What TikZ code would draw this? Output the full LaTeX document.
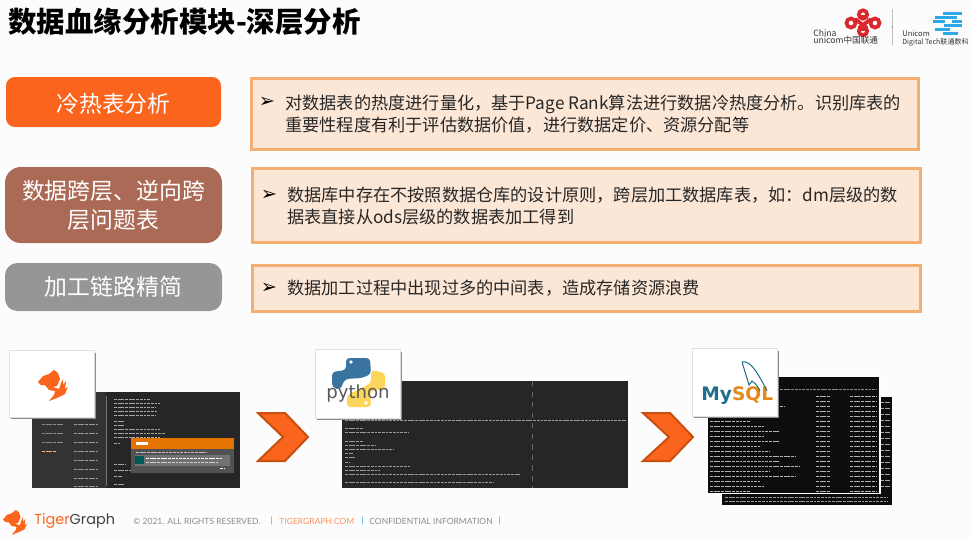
\documentclass[tikz,border=0pt]{standalone}
\usepackage{fontspec}
\setmainfont{Noto Sans CJK SC}
\newfontfamily\bulletfont{DejaVu Sans}
\newfontfamily\logofont{Poppins}
\newfontfamily\footfont{Lato}
\newfontfamily\pyfont{DejaVu Sans}
\usetikzlibrary{calc}
\definecolor{tgorange}{HTML}{FA641C}
\definecolor{tgedge}{HTML}{C8500F}
\definecolor{tgbrown}{HTML}{AB6A56}
\definecolor{tggray}{HTML}{969696}
\definecolor{boxfill}{HTML}{FCE6D6}
\definecolor{boxline}{HTML}{F4AE72}
\definecolor{cuhong}{HTML}{D9272E}
\definecolor{dtblue}{HTML}{2FA8E8}
\definecolor{pyblue}{HTML}{39739F}
\definecolor{pyyellow}{HTML}{FBD65A}
\definecolor{mysqlteal}{HTML}{1F6E8C}
\definecolor{mysqlorange}{HTML}{E48A1C}
\tikzset{
	headbox/.style={rounded corners=#1, inner sep=0, text=white, align=center, font=\fontsize{13}{16.5}\selectfont},
	textbox/.style={draw=boxline, fill=boxfill, line width=0.6mm},
	bodytext/.style={anchor=west, inner sep=0, align=left, text=black!85, font=\fontsize{9.78}{12.8}\selectfont},
	bullet/.style={inner sep=0, font=\bulletfont\fontsize{11}{12}\selectfont},
	card/.style={fill=white, draw=black!12, line width=0.2mm},
	cardshadow/.style={fill=black!45},
	chevron/.style={fill=tgorange, draw=tgedge, line width=0.4mm, line join=miter},
	footnote/.style={inner sep=0, anchor=west, text=black!45, font=\footfont\fontsize{4.85}{6}\selectfont},
	codeline/.style={line width=0.18mm, dash pattern=on 1.6pt off 0.5pt, color=#1},
	tinylogo/.style={inner sep=0, anchor=west, text=black!80}
}
\def\tigerhead[#1](#2,#3){\fill[tgorange, shift={(#2,#3)}, scale=#1]
	(0,12) -- (5,6) -- (11,4) -- (16,0) -- (20,3) -- (22,9) -- (19,16) -- (15,17) -- (21,19) -- (23,13) -- (25,9) -- (25,15) -- (28,11) -- (27,19)
	-- (30,17) -- (27,24) -- (19,28) -- (11,31) -- (16,25) -- (17,21) -- (11,20) -- (7,15) -- (3,15) -- cycle;}
\begin{document}
\begin{tikzpicture}[x=0.02cm, y=-0.02cm]
			%%%%% START %%%%%
			\useasboundingbox[fill=black!1] (0, 0) rectangle (973, 538);
			
			\node[inner sep=0, anchor=west, font=\bfseries\fontsize{16.2}{20}\selectfont] (title) at (8, 22) {数据血缘分析模块-深层分析};
			
			% unicom logos
			\draw[cuhong, line width=0.75mm] (851, 23) circle (4.5);
			\draw[cuhong, line width=0.75mm] (875, 23) circle (4.5);
			\draw[cuhong, line width=0.75mm] (863, 14.5) circle (4.2);
			\draw[cuhong, line width=0.75mm] (863, 31) circle (4.2);
			\draw[cuhong, line width=0.75mm] (855, 19) -- (867, 28) (871, 19) -- (859, 28) (859, 17) -- (867, 17) (859, 29) -- (867, 29);
			\node[tinylogo, font=\fontsize{4.9}{6}\selectfont] (china) at (813, 33) {China};
			\node[tinylogo, font=\fontsize{4.9}{6}\selectfont] (unicomcn) at (813, 40) {unicom中国联通};
			\draw[black!25, line width=0.2mm] (892, 9) -- (892, 45);
			\fill[black!50] (892, 27) circle (0.7);
			\node[tinylogo, font=\fontsize{4.3}{6}\selectfont] (unicomdt) at (902, 34) {Unicom};
			\node[tinylogo, font=\fontsize{4}{6}\selectfont] (digitaltech) at (902, 42) {Digital Tech联通数科};
			\draw[dtblue, line width=0.6mm] (943, 13) -- (962, 13) (935, 17) -- (957, 17) (933, 21) -- (945, 21) (952, 21) -- (962, 21) (944, 25) -- (962, 25) (935, 29) -- (950, 29) (943, 33) -- (958, 33);
			
			% head boxes
			\node[headbox=5, fill=tgorange, minimum width=215*0.02cm, minimum height=50*0.02cm, text depth=0] (coldhot) at (113.5, 102) {\raisebox{-1pt}{冷热表分析}};
			\node[headbox=9, fill=tgbrown, minimum width=217*0.02cm, minimum height=76*0.02cm] (crosslayer) at (113.5, 205) {\raisebox{-0.6pt}{数据跨层、逆向跨}\\\raisebox{-0.6pt}{层问题表}};
			\node[headbox=7, fill=tggray, minimum width=217*0.02cm, minimum height=48*0.02cm] (shorten) at (113.5, 287) {\raisebox{-0.6pt}{加工链路精简}};
			
			% text boxes
			\draw[textbox] (251, 78.5) rectangle (918.5, 149.5);
			\node[bullet] (bulleta) at (267, 102) {➢};
			\node[bodytext] (texta) at (285, 114) {对数据表的热度进行量化，基于Page Rank算法进行数据冷热度分析。识别库表的\\重要性程度有利于评估数据价值，进行数据定价、资源分配等};
			
			\draw[textbox] (252.5, 168.5) rectangle (920.5, 242.5);
			\node[bullet] (bulletb) at (269, 195) {➢};
			\node[bodytext] (textb) at (287, 206) {数据库中存在不按照数据仓库的设计原则，跨层加工数据库表，如：dm层级的数\\据表直接从ods层级的数据表加工得到};
			
			\draw[textbox] (252.5, 265.5) rectangle (920.5, 311.5);
			\node[bullet] (bulletc) at (269, 288) {➢};
			\node[bodytext] (textc) at (287, 288.5) {数据加工过程中出现过多的中间表，造成存储资源浪费};
			
			% first screen
			\fill[black!85] (32, 392) rectangle (240, 488);
			\fill[black!80] (32, 392) rectangle (106, 488);
			\foreach \y in {424, 433, 442, 451, 460, 469, 478, 486}
				\draw[codeline=black!40] (74, \y) -- (98, \y);
			\foreach \y in {424, 433, 442}
				\draw[codeline=black!45] (42, \y) -- (64, \y);
			\draw[codeline=orange!60] (42, 451) -- (56, 451);
			\foreach \y/\w in {399/150, 403/160, 407/155, 411/158, 415/155, 421/125, 425/125, 429/160, 433/165, 437/160, 443/120, 464/126, 470/134, 476/122, 484/125}
				\draw[codeline=black!35] (114, \y) -- (\w, \y);
			\draw[black!55, line width=0.2mm] (106, 396) -- (106, 486);
			\fill[black!68] (131, 438) rectangle (234, 473);
			\fill[orange!90!black] (131, 438) rectangle (234, 449);
			\fill[white] (136, 442) rectangle (148, 444.5);
			\fill[black!55] (135, 455) rectangle (230, 466);
			\fill[teal!70!black] (135, 456) rectangle (144, 464);
			\draw[codeline=white] (146, 458) -- (222, 458);
			\draw[codeline=black!20] (146, 462) -- (218, 462);
			\draw[codeline=black!25] (136, 452) -- (207, 452);
			\draw[codeline=white] (220, 468) -- (224, 468);
			
			\fill[cardshadow] (11, 353) rectangle (96, 419);
			\draw[card] (9, 350) rectangle (94, 417);
			\tigerhead[1](38, 370)
			
			\draw[chevron] (258, 413) -- (285, 413) -- (308, 437) -- (285, 461) -- (258, 461) -- (283, 437) -- cycle;
			
			% second screen
			\fill[black!85] (342, 381) rectangle (628, 488);
			\draw[black!60, dashed, line width=0.1mm] (532, 381) -- (532, 488);
			\draw[codeline=black!40] (345, 420) -- (626, 420);
			\foreach \y/\w in {428/363, 432/408, 441/363, 445/375, 449/393, 453/353, 457/355, 462/350, 466/410, 470/380, 474/520, 482/493}
				\draw[codeline=black!40] (345, \y) -- (\w, \y);
			
			\fill[cardshadow] (317, 352) rectangle (402, 420);
			\draw[card] (315, 349) rectangle (400, 418);
			\fill[pyblue, rounded corners=2] (346, 358) -- (370, 358) -- (371, 374) -- (362, 378) -- (345, 379) -- (340, 390) -- (332, 387) -- (332, 372) -- (346, 370) -- cycle;
			\fill[pyyellow, rounded corners=2] (371, 370) -- (385, 373) -- (385, 389) -- (370, 391) -- (371, 407) -- (347, 407) -- (347, 395) -- (362, 388) -- (371, 383) -- cycle;
			\fill[white] (351, 362) circle (1.8);
			\fill[white] (366, 403) circle (1.8);
			\node[inner sep=0, text=black!65, font=\pyfont\fontsize{10.3}{12}\selectfont] (python) at (358, 393) {python};
			
			\draw[chevron] (643, 413) -- (670, 413) -- (693, 437) -- (670, 461) -- (643, 461) -- (669, 437) -- cycle;
			
			% third screens
			\fill[black!95] (722, 397) rectangle (892, 505);
			\foreach \y in {402, 408, 414, 420, 426, 432, 438, 444, 450, 456, 462, 468, 474, 480, 486}
				\draw[codeline=black!35] (881, \y) -- (890, \y);
			\draw[codeline=black!40] (725, 497) -- (888, 497);
			\draw[codeline=black!40] (725, 501) -- (888, 501);
			\fill[white] (706, 375) rectangle (881, 494);
			\fill[black!95] (708, 377) rectangle (879, 493);
			\draw[codeline=black!45] (710, 389) -- (877, 389);
			\foreach \y/\w in {396/770, 401/775, 406/785, 411/775, 416/770, 421/750, 426/765, 431/780, 436/765, 441/780, 446/760, 451/770, 456/795, 461/780, 466/800, 471/770, 476/795, 481/760, 486/765, 491/750}{
				\draw[codeline=black!30] (710, \y) -- (\w, \y);
				\draw[codeline=black!30] (816, \y) -- (830, \y);
				\draw[codeline=black!30] (850, \y) -- (877, \y);
			}
			
			\fill[cardshadow] (694, 351) rectangle (779, 418);
			\draw[card] (692, 348) rectangle (777, 416);
			\node[inner sep=0, anchor=west, font=\pyfont\bfseries\fontsize{10.6}{12}\selectfont] (mysql) at (701, 396) {\textcolor{mysqlteal}{My}\textcolor{mysqlorange}{SQL}};
			\draw[mysqlteal, line width=0.2mm] (742, 362) .. controls (750, 360) and (757, 372) .. (764, 385) .. controls (766, 388) and (766, 390) .. (767, 391);
			\draw[mysqlteal, line width=0.2mm] (742, 362) .. controls (745, 372) and (747, 378) .. (749, 385) -- (752, 381) .. controls (756, 384) and (759, 388) .. (760, 391);
			
			% footer
			\tigerhead[0.8](3, 510)
			\node[inner sep=0, anchor=west, text=black!75, font=\logofont\fontsize{8.2}{10}\selectfont] (tigergraph) at (34, 521) {\textcolor{tgorange}{Tiger}Graph};
			\node[footnote] (rights) at (133, 521) {© 2021. ALL RIGHTS RESERVED.};
			\node[footnote, text=dtblue] (sepa) at (270, 521) {|};
			\node[footnote, text=tgorange!70] (site) at (279, 521) {TIGERGRAPH.COM};
			\node[footnote, text=dtblue] (sepb) at (361, 521) {|};
			\node[footnote] (confidential) at (369, 521) {CONFIDENTIAL INFORMATION};
			\node[footnote, text=dtblue] (sepc) at (498, 521) {|};
			
			%%%%% END %%%%%
		\end{tikzpicture}
\end{document}
